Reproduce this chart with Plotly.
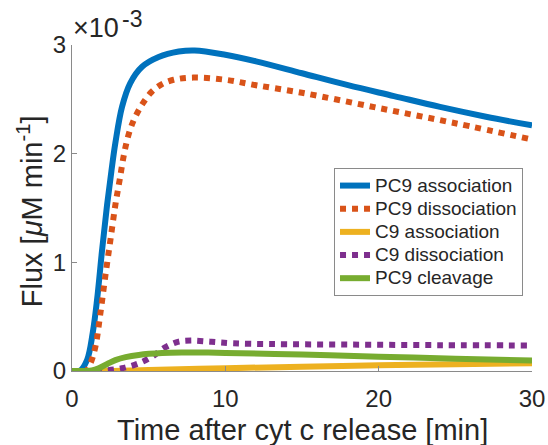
import plotly.graph_objects as go

# Flux values in units of 1e-3 uM/min
t_blue = [0, 0.5, 0.98, 1.35, 1.63, 1.96, 2.28, 2.57, 2.83, 3.26, 3.8, 4.57, 5.65, 6.96, 8, 10, 12, 15, 18, 21, 24, 27, 30]
pc9_assoc = [0, 0, 0.1, 0.35, 0.65, 1.11, 1.52, 1.84, 2.1, 2.43, 2.65, 2.8, 2.89, 2.94, 2.95, 2.91, 2.85, 2.74, 2.63, 2.53, 2.43, 2.34, 2.26]

t_orange = [0, 0.9, 1.2, 1.52, 1.85, 2.17, 2.5, 2.83, 3.11, 3.4, 3.7, 4.0, 4.35, 4.7, 5.2, 5.87, 6.63, 7.9, 10, 12, 15, 20, 25, 30]
pc9_dissoc = [0, 0, 0.07, 0.22, 0.53, 0.87, 1.2, 1.53, 1.76, 2.0, 2.18, 2.3, 2.4, 2.48, 2.57, 2.64, 2.68, 2.7, 2.68, 2.63, 2.56, 2.42, 2.28, 2.13]

t_yellow = [0, 2, 5, 10, 15, 20, 25, 30]
c9_assoc = [0, 0.0, 0.01, 0.025, 0.04, 0.052, 0.063, 0.072]

t_purple = [0, 1.5, 2.2, 3.26, 4.35, 5.2, 6.1, 6.96, 7.8, 9, 10.5, 13, 18, 24, 30]
c9_dissoc = [0, 0, 0.005, 0.025, 0.07, 0.13, 0.22, 0.27, 0.28, 0.27, 0.255, 0.248, 0.243, 0.238, 0.235]

t_green = [0, 0.9, 1.3, 1.74, 2.3, 2.83, 3.5, 4.35, 5.87, 7.2, 8.5, 10, 15, 20, 25, 30]
pc9_cleave = [0, 0, 0.005, 0.025, 0.065, 0.1, 0.128, 0.148, 0.165, 0.17, 0.17, 0.166, 0.152, 0.132, 0.113, 0.097]

series_names = ["PC9 association", "PC9 dissociation", "C9 association", "C9 dissociation", "PC9 cleavage"]
x_ticks = [0, 10, 20, 30]
y_ticks = [0, 1, 2, 3]
y_ticktext = ["0", "1", "2", "3"]

series_x = [t_blue, t_orange, t_yellow, t_purple, t_green]
series_y = [pc9_assoc, pc9_dissoc, c9_assoc, c9_dissoc, pc9_cleave]
colors = ["#0072BD", "#D95319", "#EDB120", "#7E2F8E", "#77AC30"]
dashes = ["solid", "dot", "solid", "dot", "solid"]

fig = go.Figure()
for name, x, y, c, dash in zip(series_names, series_x, series_y, colors, dashes):
    fig.add_trace(go.Scatter(
        x=x, y=y, mode="lines",
        name='<span style="font-size:19px">' + name + '</span>',
        line=dict(color=c, dash=dash, width=6, shape="spline", smoothing=1.0)))

font_fam = "Liberation Sans, Arial, sans-serif"
txt = "#262626"
axc = "#8a8a8a"

fig.update_layout(
    width=548, height=445,
    margin=dict(l=72, r=16, t=45, b=74),
    paper_bgcolor="white", plot_bgcolor="white",
    font=dict(family=font_fam, color=txt, size=24),
    showlegend=True,
    legend=dict(x=0.5696, y=0.6227, xanchor="left", yanchor="top",
                bgcolor="white", bordercolor=axc, borderwidth=1,
                font=dict(size=15.5, color=txt), tracegroupgap=0,
                itemwidth=30),
    xaxis=dict(range=[0, 30], tickvals=x_ticks, ticks="inside", ticklen=5,
               tickcolor=axc, showline=True, linecolor=axc, linewidth=1,
               showgrid=False, zeroline=False, tickfont=dict(size=24),
               automargin=False, ticklabelstandoff=6),
    yaxis=dict(range=[0, 3], tickvals=y_ticks, ticktext=y_ticktext, ticks="inside", ticklen=5,
               tickcolor=axc, showline=True, linecolor=axc, linewidth=1,
               showgrid=False, zeroline=False, tickfont=dict(size=24),
               automargin=False),
)

fig.add_annotation(text="Time after cyt c release [min]", xref="paper", yref="paper",
                   x=0.5, y=-0.181, xanchor="center", yanchor="middle", showarrow=False,
                   font=dict(size=29, color=txt))
fig.add_annotation(text="Flux [<i>μ</i>M min<sup>-1</sup>]", xref="paper", yref="paper",
                   x=-0.0913, y=0.49, xanchor="center", yanchor="middle", showarrow=False,
                   textangle=-90, font=dict(size=29, color=txt))
# axis exponent label
fig.add_annotation(text="×10", xref="paper", yref="paper",
                   x=0.0, y=1.052, xanchor="left", yanchor="middle", showarrow=False,
                   font=dict(size=27, color=txt), xshift=-1)
fig.add_annotation(text="-3", xref="paper", yref="paper",
                   x=0.104, y=1.08, xanchor="left", yanchor="middle", showarrow=False,
                   font=dict(size=23, color=txt))

fig.write_html("out.html")
